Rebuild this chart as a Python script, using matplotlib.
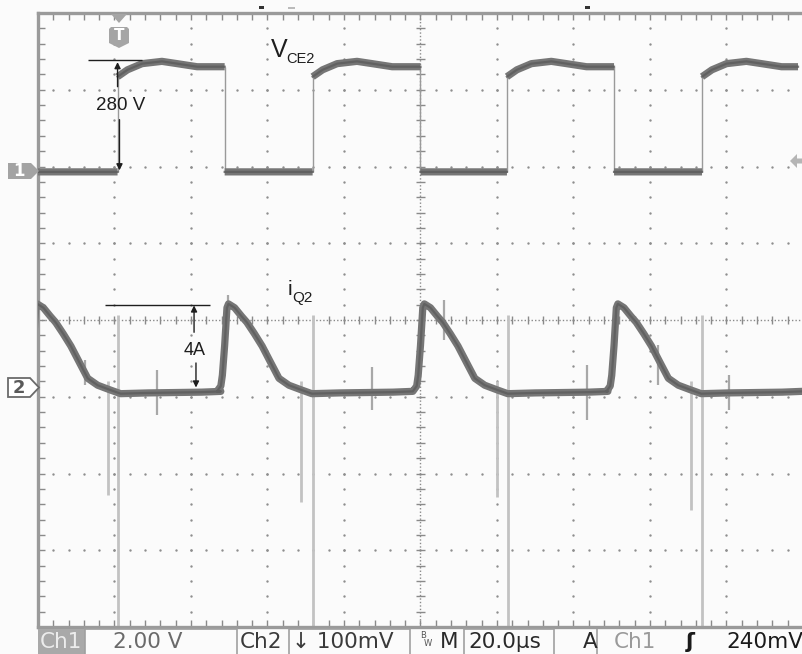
import numpy as np
import matplotlib
matplotlib.use("Agg")
import matplotlib.pyplot as plt
from matplotlib.patches import Polygon, Rectangle

# ---- data, in screen divisions (20 us/div horizontally) ----
X_MAX = 9.935  # right edge of the visible screen

# V_CE2 (channel 1)
vce_low = 1.93
vce_rise = [1.04, 3.59, 6.13, 8.68]
vce_fall = [2.44, 5.00, 7.53]
vce_high_offset = [0.00, 0.13, 0.32, 0.58, 0.78, 1.04, 1.40]
vce_high_level = [3.17, 3.26, 3.34, 3.37, 3.34, 3.30, 3.30]

# i_Q2 (channel 2): one turn-on shape, relative to the V_CE2 fall
iq_turn_on = [-0.06, 2.44, 5.00, 7.53]
iq_offset = [-0.10, -0.05, -0.03, 0.00, 0.03, 0.05, 0.13, 0.22, 0.29, 0.39,
             0.49, 0.61, 0.71, 0.84, 1.00, 1.14, 1.50, 2.20, 2.45]
iq_level = [-0.93, -0.86, -0.72, -0.33, 0.16, 0.21, 0.16, 0.05, -0.03, -0.18,
            -0.34, -0.57, -0.76, -0.85, -0.91, -0.96, -0.95, -0.94, -0.93]

# ringing spikes on the current trace
long_spike_x = [1.05, 3.60, 6.14, 8.68]
long_spike_top = 0.07
mid_spike_x = [0.91, 3.44, 6.00, 8.53]
mid_spike_bottom = [-2.28, -2.37, -2.31, -2.48]
small_spike_x = [0.62, 1.56, 2.49, 4.36, 5.31, 7.17, 8.10, 9.03]
small_spike_top = [-0.52, -0.65, 0.33, -0.61, 0.26, -0.59, -0.33, -0.72]
small_spike_bottom = [-0.85, -1.24, -0.13, -1.17, -0.26, -1.30, -0.85, -1.17]

status_items = ["Ch1", "2.00 V", "Ch2", "\u2193 100mV", "M", "20.0\u00b5s",
                "A", "Ch1", "\u0283", "240mV"]

BG = "#fbfbfb"
TRACE = "#767676"
TRACE_CORE = "#5c5c5c"
SPIKE = "#c2c2c2"
GRID = "#8e8e8e"

W, H = 803, 654
fig = plt.figure(figsize=(W / 100, H / 100), dpi=100)
fig.patch.set_facecolor(BG)

# screen area: x 38..803 px, y 13..627 px
ax = fig.add_axes([38 / W, 27 / H, (W - 38) / W, 614 / H])
ax.set_facecolor(BG)
ax.set_xlim(0, X_MAX)
ax.set_ylim(-4, 4)

# ---- graticule ----
ax.set_xticks(np.arange(0, 10.01, 0.2))
ax.set_yticks(np.arange(-4, 4.01, 0.2))
ax.tick_params(direction="in", length=5, width=1, color="#8a8a8a",
               top=True, bottom=True, left=True, right=False,
               labelbottom=False, labelleft=False)
for side in ["top", "left", "bottom"]:
    ax.spines[side].set_color("#9a9a9a")
    ax.spines[side].set_linewidth(2.4)
ax.spines["right"].set_visible(False)

fine = np.arange(0, 10.01, 0.2)
fine_y = np.arange(-4, 4.01, 0.2)
for k in range(1, 10):
    if k == 5:
        continue
    ax.scatter(np.full(fine_y.size, k), fine_y, s=3, color=GRID, lw=0, zorder=1)
for j in range(-3, 4):
    if j == 0:
        continue
    ax.scatter(fine, np.full(fine.size, j), s=3, color=GRID, lw=0, zorder=1)

# centre cross with small ticks
ax.axhline(0, color="#8a8a8a", lw=1, ls=(0, (1, 1.5)), zorder=1)
ax.axvline(5, color="#8a8a8a", lw=1, ls=(0, (1, 1.5)), zorder=1)
ax.vlines(fine, -0.05, 0.05, color="#8a8a8a", lw=1, zorder=1)
ax.hlines(fine_y, 5 - 0.055, 5 + 0.055, color="#8a8a8a", lw=1, zorder=1)

# ---- V_CE2 trace ----
vx, vy = [0.0, vce_rise[0]], [vce_low, vce_low]
falls = vce_fall + [X_MAX]
for i, r in enumerate(vce_rise):
    f = falls[i]
    offs = [o for o in vce_high_offset if r + o < f]
    xs = [r + o for o in offs] + [f]
    ys = list(np.interp(np.array(xs) - r, vce_high_offset, vce_high_level))
    vx += [np.nan] + xs
    vy += [np.nan] + ys
    ax.vlines(r, vce_low, ys[0], color="#9a9a9a", lw=1, zorder=3)
    if f < X_MAX:
        ax.vlines(f, vce_low, ys[-1], color="#9a9a9a", lw=1, zorder=3)
        nxt = vce_rise[i + 1] if i + 1 < len(vce_rise) else X_MAX
        vx += [np.nan, f, nxt]
        vy += [np.nan, vce_low, vce_low]
ax.plot(vx, vy, color=TRACE, lw=5.2, solid_capstyle="butt", zorder=4)
ax.plot(vx, vy, color=TRACE_CORE, lw=1.6, alpha=0.8, zorder=4)

# ---- i_Q2 trace ----
ix, iy = [], []
for t in iq_turn_on:
    for o, lv in zip(iq_offset, iq_level):
        ix.append(t + o)
        iy.append(lv)
ax.vlines(long_spike_x, -4, long_spike_top, color=SPIKE, lw=2, zorder=2)
ax.vlines(mid_spike_x, mid_spike_bottom, -0.8, color=SPIKE, lw=2, zorder=2)
ax.vlines(small_spike_x, small_spike_bottom, small_spike_top, color="#a8a8a8",
          lw=1.6, zorder=3)
ax.plot(ix, iy, color=TRACE, lw=5.2, zorder=4)
ax.plot(ix, iy, color=TRACE_CORE, lw=1.6, alpha=0.8, zorder=4)

# ---- annotations ----
txt = dict(family=["Liberation Sans", "DejaVu Sans"], color="#1e1e1e")
arr = dict(arrowstyle="-|>", color="#1e1e1e", lw=1, mutation_scale=9,
           shrinkA=0, shrinkB=0)
ax.hlines(3.39, 0.66, 1.36, color="#1e1e1e", lw=1, zorder=5)
ax.annotate("", xy=(1.04, 3.36), xytext=(1.04, 3.04), arrowprops=arr, zorder=5)
ax.text(1.08, 2.80, "280 V", fontsize=13.5, ha="center", va="center", **txt)
ax.annotate("", xy=(1.065, 1.95), xytext=(1.065, 2.61), arrowprops=arr, zorder=5)

ax.hlines(0.20, 0.88, 2.25, color="#1e1e1e", lw=1, zorder=5)
ax.annotate("", xy=(2.04, 0.19), xytext=(2.04, -0.16), arrowprops=arr, zorder=5)
ax.text(2.05, -0.40, "4A", fontsize=13, ha="center", va="center", **txt)
ax.annotate("", xy=(2.065, -0.88), xytext=(2.065, -0.56), arrowprops=arr, zorder=5)

ax.text(3.04, 3.43, "V", fontsize=18, ha="left", va="baseline", **txt)
ax.text(3.25, 3.35, "CE2", fontsize=10.5, ha="left", va="baseline", **txt)
ax.text(3.26, 0.33, "i", fontsize=15, ha="left", va="baseline", **txt)
ax.text(3.32, 0.23, "Q2", fontsize=11, ha="left", va="baseline", **txt)

# ---- overlay in pixel coordinates: markers and status bar ----
ov = fig.add_axes([0, 0, 1, 1], zorder=10)
ov.set_xlim(0, W)
ov.set_ylim(H, 0)
ov.axis("off")
ov.patch.set_alpha(0)

# channel 1 ground marker
ov.add_patch(Polygon([(8, 163), (31, 163), (39, 171), (31, 179), (8, 179)],
                     closed=True, fc="#a3a3a3", ec="none"))
ov.text(19, 171.5, "1", color="white", fontsize=12, fontweight="bold",
        ha="center", va="center")
# channel 2 ground marker
ov.add_patch(Polygon([(8, 378), (30, 378), (39, 387.5), (30, 397), (8, 397)],
                     closed=True, fc="white", ec="#6a6a6a", lw=1.3))
ov.text(19, 388, "2", color="#5a5a5a", fontsize=13, fontweight="bold",
        ha="center", va="center")
# trigger position marker
ov.add_patch(Polygon([(111, 14), (127, 14), (119, 23)], closed=True,
                     fc="#a5a5a5", ec="none"))
ov.add_patch(Polygon([(109, 29), (111, 27), (127, 27), (129, 29), (129, 43),
                      (119, 48), (109, 43)], closed=True, fc="#a5a5a5", ec="none"))
ov.text(119, 36, "T", color="white", fontsize=11, fontweight="bold",
        ha="center", va="center")
# trigger level marker (right)
ov.add_patch(Polygon([(790, 161), (797, 154), (797, 158.5), (803, 158.5),
                      (803, 163.5), (797, 163.5), (797, 168)], closed=True,
                     fc="#b5b5b5", ec="none"))
# small header remnants above the frame
ov.add_patch(Rectangle((259, 6), 5, 3, fc="#333333", ec="none"))
ov.add_patch(Rectangle((288, 7), 7, 2, fc="#bbbbbb", ec="none"))
ov.add_patch(Rectangle((585, 6), 5, 3, fc="#333333", ec="none"))

# status bar
ov.add_patch(Rectangle((38, 629), 47, 25, fc="#a9a9a9", ec="none"))
for x0, x1 in [(85, 237), (289, 410), (464, 554)]:
    ov.add_patch(Rectangle((x0, 629), x1 - x0, 26, fc="none", ec="#a0a0a0", lw=1.2))
ov.vlines(597, 629, 654, color="#a0a0a0", lw=1.2)
st = dict(fontsize=15.5, va="center", family=["DejaVu Sans"])
status_x = [40, 113, 240, 292, 440, 468, 583, 614, 686, 726]
status_c = ["#ececec", "#6a6a6a", "#3a3a3a", "#3a3a3a", "#2a2a2a", "#2a2a2a",
            "#2a2a2a", "#9a9a9a", "#1a1a1a", "#1a1a1a"]
for label, x, c in zip(status_items, status_x, status_c):
    weight = "bold" if label == "\u0283" else "normal"
    ov.text(x, 642, label, color=c, fontweight=weight, **st)
ov.text(423, 636, "B", fontsize=6, color="#555555", ha="center", va="center")
ov.text(428, 644, "W", fontsize=6, color="#555555", ha="center", va="center")

fig.savefig("out.png", dpi=100, facecolor=fig.get_facecolor())
